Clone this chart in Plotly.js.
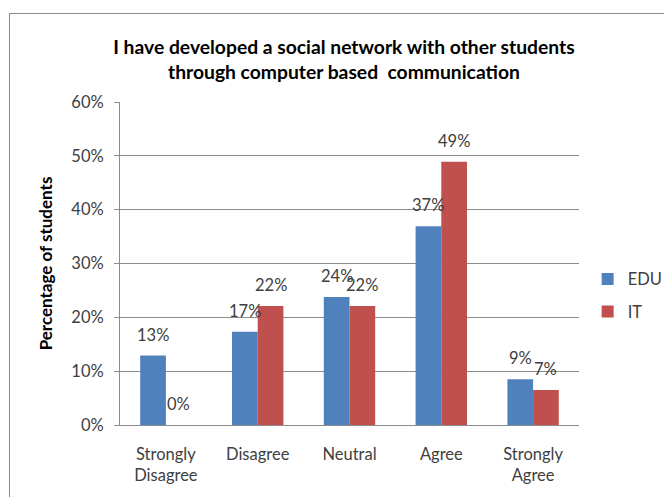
<!DOCTYPE html>
<html>
<head>
<meta charset="utf-8">
<script src="https://cdn.plot.ly/plotly-3.0.1.min.js"></script>
<style>
  html, body { margin: 0; padding: 0; background: #fff; }
  #wrap { position: relative; width: 664px; height: 497px; overflow: hidden; }
  #frame { position: absolute; left: 9px; top: 13px; width: 700px; height: 520px; border: 1.5px solid #8c8c8c; box-sizing: border-box; pointer-events: none; }
  #chart { position: absolute; left: 0; top: 0; width: 664px; height: 497px; }
</style>
</head>
<body>
<div id="wrap">
  <div id="chart"></div>
  <div id="frame"></div>
</div>
<script>
const categories = ["Strongly<br>Disagree", "Disagree", "Neutral", "Agree", "Strongly<br>Agree"];
const eduValues = [0.129, 0.173, 0.238, 0.369, 0.085];
const itValues = [0.0, 0.221, 0.221, 0.489, 0.065];
const eduLabels = ["13%", "17%", "24%", "37%", "9%"];
const itLabels = ["0%", "22%", "22%", "49%", "7%"];
const yTickVals = [0, 0.1, 0.2, 0.3, 0.4, 0.5, 0.6];
const yTickText = ["0%", "10%", "20%", "30%", "40%", "50%", "60%"];

const FONT = "Lato, 'Open Sans', sans-serif";
const FS = 16.5;

const traces = [
  { type: "bar", name: "EDU", legendgroup: "a", x: categories, y: eduValues, marker: { color: "#4F81BD" }, hoverinfo: "none" },
  { type: "bar", name: "IT", legendgroup: "b", x: categories, y: itValues, marker: { color: "#C0504D" }, hoverinfo: "none" }
];

const barShift = 12.85;
const annotations = [];
categories.forEach((c, i) => {
  annotations.push({ x: c, y: eduValues[i], xref: "x", yref: "y", text: eduLabels[i], showarrow: false,
    xshift: -barShift, yshift: 9, yanchor: "bottom", font: { family: FONT, size: FS, color: "#404040" } });
  annotations.push({ x: c, y: itValues[i], xref: "x", yref: "y", text: itLabels[i], showarrow: false,
    xshift: barShift, yshift: 9, yanchor: "bottom", font: { family: FONT, size: FS, color: "#404040" } });
});

const layout = {
  width: 664, height: 497,
  margin: { l: 120, r: 85, t: 102, b: 72, autoexpand: false },
  paper_bgcolor: "rgba(0,0,0,0)", plot_bgcolor: "#fff",
  font: { family: FONT, size: FS, color: "#404040" },
  title: {
    text: "<b>I have developed a social network with other students<br>through computer based  communication</b>",
    font: { family: FONT, size: 19.3, color: "#000" },
    x: 0.518, xref: "container", xanchor: "center",
    y: 0.891, yref: "container", yanchor: "middle"
  },
  barmode: "group", bargap: 0.44, bargroupgap: 0,
  xaxis: {
    showline: true, linecolor: "#8c8c8c", linewidth: 1, ticks: "", showgrid: false,
    tickfont: { family: FONT, size: FS, color: "#404040" }, ticklabelstandoff: 14
  },
  yaxis: {
    range: [0, 0.6], tickvals: yTickVals, ticktext: yTickText,
    showline: true, linecolor: "#8c8c8c", linewidth: 1,
    ticks: "outside", ticklen: 5, tickcolor: "#8c8c8c",
    showgrid: true, gridcolor: "#8c8c8c", gridwidth: 1, zeroline: false,
    tickfont: { family: FONT, size: FS, color: "#404040" }, ticklabelstandoff: 7,
    title: { text: "<b>Percentage of students</b>", font: { family: FONT, size: 17, color: "#000" }, standoff: 14 }
  },
  legend: {
    xref: "container", x: 0.885, xanchor: "left", yref: "container", y: 0.406, yanchor: "middle",
    font: { family: FONT, size: FS, color: "#404040" },
    itemwidth: 30, tracegroupgap: 8, traceorder: "grouped"
  },
  annotations: annotations,
  showlegend: true
};

Plotly.newPlot("chart", traces, layout, { displayModeBar: false, staticPlot: true });
</script>
</body>
</html>
